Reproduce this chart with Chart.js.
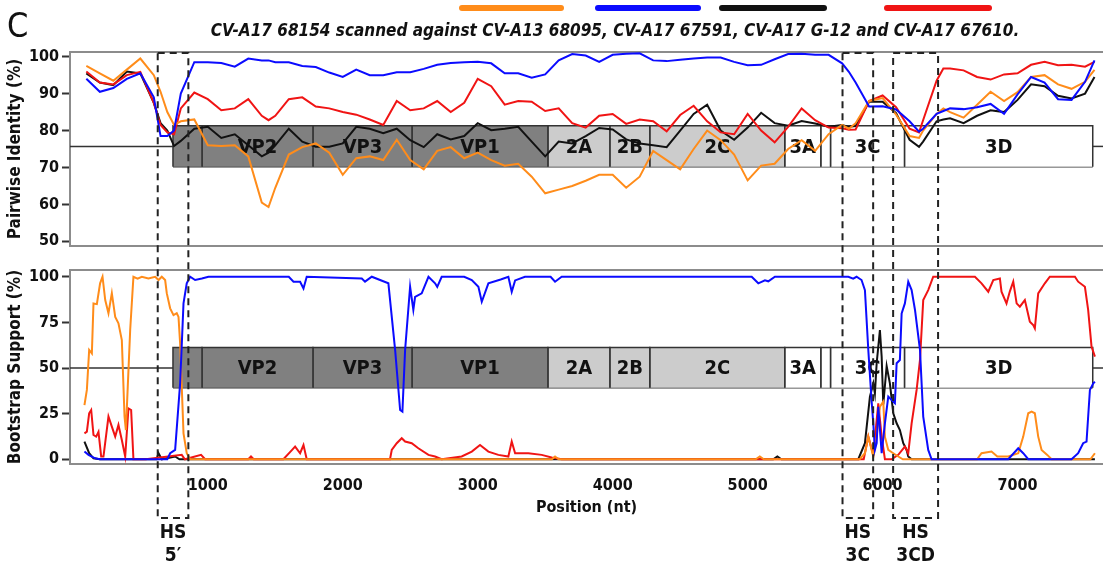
<!DOCTYPE html>
<html>
<head>
<meta charset="utf-8">
<script src="https://cdn.jsdelivr.net/npm/chart.js@4.4.1/dist/chart.umd.min.js"></script>
<style>
  html, body { margin: 0; padding: 0; background: #fff; overflow: hidden; }
  #wrap { position: relative; width: 1103px; height: 569px; }
  #wrap canvas { position: absolute; left: 0; top: 0; }
</style>
</head>
<body>
<div id="wrap">
  <canvas id="identChart" width="1103" height="569"></canvas>
  <canvas id="bootChart" width="1103" height="569"></canvas>
</div>
<script>
// --- data ---
const seriesNames = ['CV-A13 68095', 'CV-A17 67591', 'CV-A17 G-12', 'CV-A17 67610'];

// pairwise identity (%), common positions (nt)
const idPos = [100, 200, 300, 400, 500, 600, 650, 700, 750, 800, 900, 1000, 1100, 1200, 1300, 1400, 1450, 1500, 1600, 1700,
  1800, 1900, 2000, 2100, 2200, 2300, 2400, 2500, 2600, 2700, 2800, 2900, 3000, 3100, 3200, 3300, 3400, 3500, 3600, 3700,
  3800, 3900, 4000, 4100, 4200, 4300, 4400, 4500, 4600, 4700, 4800, 4900, 5000, 5100, 5200, 5300, 5400, 5500, 5600, 5700,
  5750, 5800, 5900, 6000, 6100, 6200, 6270, 6300, 6400, 6450, 6500, 6600, 6700, 6800, 6900, 7000, 7100, 7200, 7300, 7400,
  7500, 7570];
const idBlue = [94, 90.5, 91.5, 94, 95.5, 89, 78.5, 78.5, 80, 90, 98.5, 98.5, 98.3, 97.3, 99.5, 99, 99, 98.5, 98.5, 97.5,
  97.2, 95.7, 94.5, 96.5, 95, 95, 95.8, 95.8, 96.7, 97.8, 98.3, 98.5, 98.6, 98.2, 95.5, 95.5, 94.3, 95.2, 99, 100.7,
  100.3, 98.6, 100.5, 100.8, 100.9, 99, 98.8, 99.2, 99.5, 99.8, 99.8, 98.6, 97.7, 97.8, 99.3, 100.7, 100.8, 100.5, 100.5, 98.2,
  95.9, 93, 86.5, 86.6, 85.7, 82.5, 79.7, 80.5, 84.5, 85.3, 86, 85.8, 86.3, 87.2, 84.5, 89.8, 94.5, 93, 88.5, 88.3,
  93.2, 99];
const idRed = [96, 93, 92.5, 95, 95.9, 87.5, 81.5, 79.5, 79, 86, 90.3, 88.5, 85.5, 86, 88.5, 84, 82.8, 84, 88.5, 89,
  86.5, 86, 85, 84.3, 83, 81.5, 88, 85.5, 86, 88, 85, 87.5, 94, 92, 87, 88, 87.8, 85.3, 86, 82,
  80.8, 84, 84.5, 81.8, 83, 82.5, 79.8, 84.2, 86.7, 82.5, 79.5, 79, 84.5, 80, 76.8, 81, 86, 82.8, 80.8, 80.6,
  80.2, 80.3, 88, 89.5, 86.3, 80.5, 79.5, 82.8, 93.5, 96.8, 96.8, 96.3, 94.5, 93.8, 95.2, 95.5, 97.8, 98.6, 97.7, 97.8,
  97.3, 98.6];
const idBlack = [95.5, 93, 92.3, 96, 95.5, 87.5, 82, 80, 75.8, 77.2, 80.5, 81, 78, 79, 76, 73, 74, 76, 80.5, 77,
  75.6, 75.6, 76.5, 81, 80.5, 79.3, 80.5, 77.4, 75.5, 79, 77.6, 78.5, 82, 80.1, 80.5, 81, 77, 73, 77, 76.5,
  78.5, 80.7, 80.3, 77.6, 76.5, 76, 75.5, 80, 84.5, 87, 80, 77.5, 80.8, 84.8, 82, 81.3, 82.6, 81.9, 81, 81.5,
  81, 81.2, 87.8, 87.8, 84.7, 77.5, 75.6, 77, 82.5, 83, 83.3, 82, 84, 85.5, 85, 88.3, 92.5, 92, 89.4, 88.7,
  90, 94.5];
const idOrange = [97.5, 95.5, 93.5, 96.5, 99.5, 95, 90.5, 85, 81.5, 82.5, 83, 76, 75.8, 76, 73, 60.5, 59.3, 64.5, 73.5, 75.5,
  76.5, 74, 68, 72.5, 73, 72, 77.5, 72, 69.5, 74.5, 75.5, 72.5, 74, 72, 70.5, 71, 67.5, 63, 64, 65,
  66.4, 68, 68, 64.5, 67.5, 74.5, 72, 69.5, 75, 80, 77.4, 73.5, 66.5, 70.5, 71, 75, 77.4, 74.5, 79, 81.5,
  80.5, 82, 88, 88.8, 84.3, 78.5, 78, 80, 84.5, 86, 85, 83.5, 87, 90.5, 88, 90.4, 94.5, 95, 92.5, 91.3,
  93.2, 96.4];

// bootstrap support (%), each series with its own positions (nt)
const bootBluePos = [86, 116, 165, 200, 700, 721, 758, 795, 820, 844, 869, 906, 956, 1005, 1600, 1635, 1684, 1709, 1733, 2141,
  2165, 2215, 2338, 2388, 2425, 2442, 2462, 2499, 2523, 2536, 2585, 2635, 2684, 2700, 2733, 2900, 2956, 3005, 3030, 3079,
  3170, 3227, 3252, 3277, 3350, 3540, 3573, 3622, 5030, 5079, 5128, 5153, 5202, 5746, 5782, 5807, 5844, 5869, 5894, 5918,
  5931, 5943, 5956, 5968, 5993, 6017, 6042, 6067, 6091, 6104, 6128, 6141, 6165, 6190, 6215, 6240, 6277, 6301, 6338, 6363,
  6931, 7005, 7042, 7079, 7400, 7449, 7486, 7511, 7536, 7561, 7573];
const bootBlue = [4.2, 2.4, 0.5, 0, 0, 3.3, 5.1, 41.6, 85.4, 96.4, 100, 98.2, 99, 100, 100, 97.3, 97.3, 93.6, 100, 99,
  97.3, 100, 96.4, 59.9, 27, 26.1, 59.9, 94.5, 81.8, 89, 90.9, 100, 96.4, 94.5, 100, 100, 98.2, 94.5, 86.3, 96.4,
  98.5, 100, 91.8, 98, 100, 100, 97.3, 100, 100, 96.4, 98, 97.5, 100, 100, 99, 100, 98.2, 92.7, 59.9, 32.5,
  19.7, 5.1, 8.8, 28.8, 3.3, 19.7, 34.3, 32.5, 30.7, 52.6, 54.4, 79.9, 85.4, 97.3, 92.7, 81.8, 59.9, 23.4, 5.1, 0,
  0, 6, 3.3, 0, 0, 3.3, 8.8, 9.7, 38, 41.6, 42.5];
const bootOrangePos = [86, 104, 121, 141, 153, 178, 202, 220, 240, 264, 289, 314, 338, 363, 383, 393, 407, 425, 449, 480,
  511, 560, 610, 635, 659, 684, 696, 721, 746, 770, 783, 795, 820, 844, 869, 3550, 3573, 3600, 5060, 5090,
  5120, 5830, 5869, 5894, 5931, 5956, 5980, 6005, 6017, 6042, 6079, 6116, 6150, 6700, 6733, 6807, 6850, 6931, 7005, 7042,
  7079, 7104, 7128, 7153, 7178, 7220, 7252, 7540, 7573];
const bootOrange = [29.7, 38, 59.9, 58, 85.4, 85, 96.4, 100, 87.2, 80, 91, 78, 74.5, 65.3, 23.4, 16, 39.8, 71, 100, 99,
  100, 99, 100, 98.2, 100, 98.2, 91, 82.7, 79, 80, 78, 63.5, 14.2, 3.3, 0, 0, 1.5, 0, 0, 1.5,
  0, 0, 3.3, 12.4, 1.5, 12.4, 28.8, 31.6, 12.4, 5.1, 3.3, 1.5, 0, 0, 3.3, 4.2, 1.5, 1.5, 3.3, 12.4,
  25.2, 26.1, 25.2, 12.4, 5.1, 2.4, 0, 0, 3.3];
const bootRedPos = [86, 104, 121, 136, 153, 173, 190, 210, 227, 264, 289, 314, 338, 363, 388, 412, 432, 449, 540, 807,
  830, 950, 980, 1300, 1320, 1340, 1560, 1623, 1647, 1684, 1709, 1733, 2350, 2363, 2400, 2437, 2462, 2511, 2560, 2635,
  2684, 2733, 2881, 2956, 3017, 3079, 3153, 3227, 3252, 3277, 3375, 3474, 3548, 3622, 5860, 5894, 5931, 5968, 5993, 6017,
  6067, 6116, 6165, 6190, 6215, 6252, 6277, 6301, 6338, 6375, 6684, 6733, 6783, 6820, 6869, 6881, 6918, 6943, 6968, 6993,
  7017, 7054, 7091, 7116, 7128, 7153, 7202, 7239, 7425, 7449, 7499, 7523, 7548, 7573];
const bootRed = [14.2, 15.1, 25.2, 27, 13.3, 12.4, 15, 1.5, 1.5, 23.4, 17.9, 12.4, 18.8, 10.6, 1.5, 27.9, 27, 0, 0, 2.4,
  0, 2.4, 0, 0, 1.5, 0, 0, 5, 6.9, 3.3, 7.8, 0, 0, 5.1, 8.8, 11.5, 9.7, 8.8, 6, 2.4,
  1.5, 0, 1.5, 4.2, 7.8, 4.2, 2.4, 1.5, 9.7, 3.3, 3.3, 2.4, 1, 0, 0, 12.4, 2.4, 30.7, 12.4, 0,
  0, 2.4, 6.9, 3.3, 19.7, 38, 54.4, 87.2, 92.7, 100, 100, 96.4, 91.8, 98.2, 99, 91.8, 85.4, 92, 97.3, 85.4,
  83.6, 87.2, 75.4, 73.5, 71.7, 90.9, 96.4, 100, 100, 97.3, 94.5, 81.8, 61.7, 56.2];
const bootBlackPos = [86, 121, 153, 200, 620, 635, 659, 758, 790, 5190, 5220, 5250, 5820, 5869, 5906, 5931, 5943, 5956, 5980, 5993,
  6005, 6030, 6054, 6079, 6104, 6128, 6153, 6178, 6190, 6215, 7573];
const bootBlack = [9.7, 3.3, 0.5, 0, 0, 3.3, 0, 1.5, 0, 0, 1.5, 0, 0, 8.8, 34.3, 41.6, 36, 52.6, 70.8, 56.2,
  30, 51.1, 41.6, 25.2, 19.7, 16, 8.8, 5.1, 1.5, 0, 0];

// genome map (nt)
const geneNames = ['VP4', 'VP2', 'VP3', 'VP1', '2A', '2B', '2C', '3A', '3B', '3C', '3D'];
const geneLabels = ['', 'VP2', 'VP3', 'VP1', '2A', '2B', '2C', '3A', '', '3C', '3D'];
const geneRegion = ['P1', 'P1', 'P1', 'P1', 'P2', 'P2', 'P2', 'P3', 'P3', 'P3', 'P3'];
const geneStart = [742, 957, 1779, 2513, 3520, 3979, 4275, 5275, 5542, 5614, 6162];
const geneEnd = [957, 1779, 2513, 3520, 3979, 4275, 5275, 5542, 5614, 6162, 7557];

// hot-spot windows (nt)
const hsStart = [629, 5703, 6078];
const hsEnd = [856, 5930, 6411];
const hsLabels = [['HS', '5\u2032'], ['HS', '3C'], ['HS', '3CD']];

// tick labels
const posTicks = [1000, 2000, 3000, 4000, 5000, 6000, 7000];
const idTicks = [50, 60, 70, 80, 90, 100];
const bootTicks = [0, 25, 50, 75, 100];

// --- styles ---
const FONT = "'DejaVu Sans Condensed', 'DejaVu Sans', sans-serif";
const seriesColors = ['#ff8c1a', '#0b0bff', '#111111', '#f01414'];
const seriesOrder = [1, 0, 3, 2];
const regionFill = { P1: '#808080', P2: '#cccccc', P3: '#ffffff' };
const xMin = -21, xMax = 7633;
const idBand = { low: 70.2, high: 81.3, mid: 75.7 };
const bootBand = { low: 39.2, high: 61.3, mid: 50 };

Chart.defaults.font.family = FONT;
Chart.defaults.color = '#111';

function pts(xs, ys) {
  return xs.map((x, i) => ({ x: x, y: ys[i] }));
}

function seriesSet(i, xs, ys) {
  return {
    label: seriesNames[i], data: pts(xs, ys), borderColor: seriesColors[i],
    borderWidth: 2, pointRadius: 0, fill: false, tension: 0, order: seriesOrder[i]
  };
}

function genomeSets(band) {
  const sets = geneStart.map((s, i) => ({
    label: 'gene ' + geneNames[i],
    data: [{ x: s, y: band.low }, { x: s, y: band.high }, { x: geneEnd[i], y: band.high }, { x: geneEnd[i], y: band.low }],
    borderColor: '#333', borderWidth: 1.5, backgroundColor: regionFill[geneRegion[i]],
    fill: { value: band.low }, pointRadius: 0, tension: 0, order: 10
  }));
  sets[0].labelAnchor = band.mid;
  const last = geneEnd[geneEnd.length - 1];
  const plain = (label, data) => ({ label, data, borderColor: '#333', borderWidth: 1.5, pointRadius: 0, fill: false, order: 10 });
  sets.push(plain('genome base', [{ x: geneStart[0], y: band.low }, { x: last, y: band.low }]));
  sets.push(plain('5 prime', [{ x: xMin, y: band.mid }, { x: geneStart[0], y: band.mid }]));
  sets.push(plain('3 prime', [{ x: last, y: band.mid }, { x: xMax + 100, y: band.mid }]));
  return sets;
}

const frame = {
  id: 'frame',
  beforeDatasetsDraw(chart) {
    const { ctx, chartArea: a } = chart;
    ctx.save();
    ctx.strokeStyle = '#8c8c8c';
    ctx.lineWidth = 2;
    ctx.strokeRect(a.left, a.top, a.right - a.left + 6, a.bottom - a.top);
    ctx.restore();
  }
};

const geneText = {
  id: 'geneText',
  afterDatasetDraw(chart, args) {
    const ds = chart.data.datasets[args.index];
    if (ds.labelAnchor === undefined) return;
    const { ctx, scales: { x, y } } = chart;
    const mid = y.getPixelForValue(ds.labelAnchor);
    ctx.save();
    ctx.font = 'bold 20px ' + FONT;
    ctx.fillStyle = '#111';
    ctx.textAlign = 'center';
    ctx.textBaseline = 'middle';
    geneLabels.forEach((t, i) => {
      if (t) ctx.fillText(t, x.getPixelForValue((geneStart[i] + geneEnd[i]) / 2), mid + 1);
    });
    ctx.restore();
  }
};

const header = {
  id: 'header',
  afterDraw(chart) {
    const { ctx } = chart;
    ctx.save();
    ctx.fillStyle = '#111';
    ctx.font = '34px ' + FONT;
    ctx.textBaseline = 'alphabetic';
    ctx.fillText('C', 7, 37);
    ctx.font = 'italic bold 17px ' + FONT;
    ctx.textAlign = 'center';
    ctx.fillText('CV-A17 68154 scanned against CV-A13 68095, CV-A17 67591, CV-A17 G-12 and CV-A17 67610.', 615, 36);
    const legendX = [[462, 561], [598, 698], [722, 824], [887, 989]];
    ctx.lineWidth = 6;
    ctx.lineCap = 'round';
    legendX.forEach((seg, i) => {
      ctx.strokeStyle = seriesColors[i];
      ctx.beginPath();
      ctx.moveTo(seg[0], 8);
      ctx.lineTo(seg[1], 8);
      ctx.stroke();
    });
    ctx.restore();
  }
};

const hsMarks = {
  id: 'hsMarks',
  afterDraw(chart) {
    const { ctx, scales: { x } } = chart;
    ctx.save();
    ctx.strokeStyle = '#222';
    ctx.lineWidth = 2;
    ctx.setLineDash([7, 5]);
    ctx.fillStyle = '#111';
    ctx.textAlign = 'center';
    ctx.textBaseline = 'middle';
    hsStart.forEach((s, i) => {
      const x0 = x.getPixelForValue(s), x1 = x.getPixelForValue(hsEnd[i]);
      ctx.strokeRect(x0, 53, x1 - x0, 465);
      ctx.font = 'bold 19px ' + FONT;
      ctx.fillText(hsLabels[i][0], (x0 + x1) / 2, 533);
      ctx.fillText(hsLabels[i][1], (x0 + x1) / 2, 556);
    });
    ctx.restore();
  }
};

function yAxis(min, max, ticks, title) {
  return {
    type: 'linear', min, max,
    afterFit(scale) { scale.width = 70; },
    afterBuildTicks(scale) { scale.ticks = ticks.map(v => ({ value: v })); },
    border: { display: false },
    grid: { drawOnChartArea: false, drawTicks: true, tickLength: 8, tickColor: '#333', tickWidth: 2 },
    ticks: { padding: 3, font: { size: 16, weight: 'bold' }, color: '#111' },
    title: { display: true, text: title, font: { size: 17, weight: 'bold' }, color: '#111', padding: { top: 5, bottom: 0 } }
  };
}

const common = {
  responsive: false,
  animation: false,
  events: [],
  plugins: { legend: { display: false }, tooltip: { enabled: false } }
};

new Chart(document.getElementById('identChart'), {
  type: 'line',
  data: {
    datasets: [
      seriesSet(0, idPos, idOrange), seriesSet(1, idPos, idBlue), seriesSet(2, idPos, idBlack), seriesSet(3, idPos, idRed),
      ...genomeSets(idBand)
    ]
  },
  options: {
    ...common,
    layout: { padding: { top: 52, left: 0, right: 0, bottom: 323 } },
    scales: {
      x: { type: 'linear', min: xMin, max: xMax, display: false },
      y: yAxis(48.73, 101.27, idTicks, 'Pairwise Identity (%)')
    }
  },
  plugins: [frame, geneText, header]
});

new Chart(document.getElementById('bootChart'), {
  type: 'line',
  data: {
    datasets: [
      seriesSet(0, bootOrangePos, bootOrange), seriesSet(1, bootBluePos, bootBlue),
      seriesSet(2, bootBlackPos, bootBlack), seriesSet(3, bootRedPos, bootRed),
      ...genomeSets(bootBand)
    ]
  },
  options: {
    ...common,
    layout: { padding: { top: 270, left: 0, right: 0, bottom: 0 } },
    scales: {
      x: {
        type: 'linear', min: xMin, max: xMax,
        afterFit(scale) { scale.height = 105; },
        afterBuildTicks(scale) { scale.ticks = posTicks.map(v => ({ value: v })); },
        border: { display: false },
        grid: { display: false },
        ticks: { padding: 4, maxRotation: 0, autoSkip: false, font: { size: 16, weight: 'bold' }, color: '#111', callback: v => String(v) },
        title: { display: true, text: 'Position (nt)', font: { size: 16, weight: 'bold' }, color: '#111', padding: { top: 0, bottom: 52 } }
      },
      y: yAxis(-2.6, 103.7, bootTicks, 'Bootstrap Support (%)')
    }
  },
  plugins: [frame, geneText, hsMarks]
});
</script>
</body>
</html>
